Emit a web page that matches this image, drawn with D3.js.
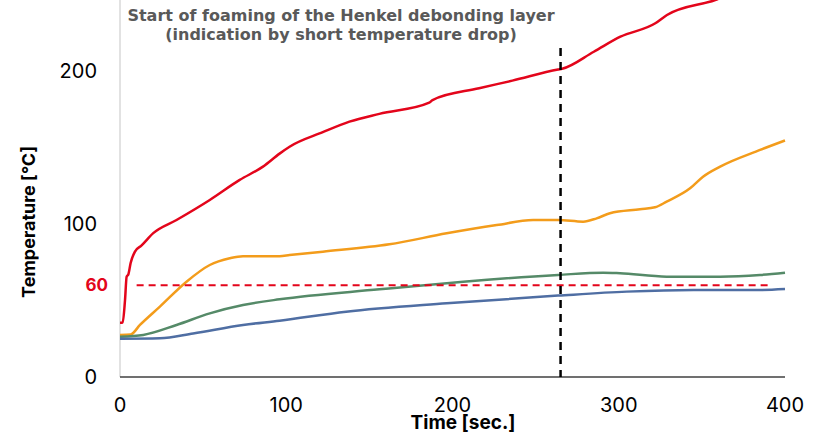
<!DOCTYPE html>
<html>
<head>
<meta charset="utf-8">
<script src="https://cdn.jsdelivr.net/npm/d3@7"></script>
<style>
  body { margin: 0; background: #fff; }
  svg { display: block; }
</style>
</head>
<body>
<svg id="chart"></svg>
<script>
const W = 817, H = 435;

// time values [sec.] and temperatures [°C]
const redTime = [0, 1.6, 3, 4, 5, 6.4, 9, 13, 20, 34, 54, 72, 86, 96, 102, 122, 138, 156, 186, 188, 216, 236, 263.5, 266, 285, 301, 322, 329, 358, 380, 400];
const redTemp = [35.4, 35.6, 50, 65.6, 67, 74.5, 82, 86, 94, 102.6, 115.7, 128.8, 137.5, 146, 150.5, 160, 166.9, 172, 179.3, 181, 188.7, 193.7, 201, 201.5, 212.6, 222.4, 231.2, 236.6, 246.4, 256, 263];

const orangeTime = [0, 6.4, 12, 24, 40, 54, 66, 74, 96, 102, 122, 162, 196.5, 226.6, 248.5, 263.5, 278.6, 286.7, 294.7, 312.8, 321.8, 328.8, 342.9, 350.7, 361, 385, 400];
const orangeTemp = [27.5, 27.8, 34, 46, 62.3, 73.2, 77.6, 79, 79, 79.7, 81.9, 86.7, 93.9, 99.3, 102.6, 102.6, 101.5, 103.7, 107, 109.6, 110.9, 114.6, 123.3, 130.9, 137.5, 148.4, 154.6];

const greenTime = [0, 14, 34, 54, 74, 96, 156, 206.5, 263.5, 290.7, 300.8, 328.8, 361, 385, 400];
const greenTemp = [26.3, 27.5, 34, 41.6, 47, 50.8, 57.3, 62.3, 66.7, 68.2, 67.8, 65.6, 65.6, 66.7, 68.2];

const blueTime = [0, 24, 44, 74, 96, 136, 196.5, 263.5, 304.8, 345, 385, 400];
const blueTemp = [25, 25.3, 28.5, 34, 36.8, 42.7, 48.2, 53.2, 55.8, 56.9, 56.9, 57.5];

const xTicks = [0, 100, 200, 300, 400];
const yTicks = [0, 100, 200];
const limitTemp = 60;
const limitSpan = [10, 392];
const foamTime = 265;
const titleLines = ["Start of foaming of the Henkel debonding layer", "(indication by short temperature drop)"];

const series = [
  { time: redTime, temp: redTemp, color: "#e3051b" },
  { time: orangeTime, temp: orangeTemp, color: "#f39c1b" },
  { time: greenTime, temp: greenTemp, color: "#558a68" },
  { time: blueTime, temp: blueTemp, color: "#4f6ea3" },
];

const svg = d3.select("#chart").attr("width", W).attr("height", H);

const x = d3.scaleLinear().domain([0, 400]).range([120, 785]);
const y = d3.scaleLinear().domain([0, 100]).range([377, 224]);

svg.append("defs").append("clipPath").attr("id", "plot-clip")
  .append("rect").attr("x", 118).attr("y", 0).attr("width", W).attr("height", 380);

// y axis line (light)
svg.append("line")
  .attr("x1", x(0)).attr("x2", x(0))
  .attr("y1", 0).attr("y2", y(0))
  .attr("stroke", "#d9d9d9").attr("stroke-width", 1.5);

// y tick labels
svg.append("g").selectAll("text").data(yTicks).join("text")
  .attr("x", 97).attr("y", (d) => y(d)).attr("dy", "0.36em")
  .attr("text-anchor", "end")
  .attr("font-family", "Inter, sans-serif")
  .attr("font-size", "20px").attr("fill", "#000")
  .text((d) => d);

// 60 marker
svg.append("text")
  .attr("x", 108).attr("y", y(limitTemp)).attr("dy", "0.36em")
  .attr("text-anchor", "end")
  .attr("font-family", "Inter, sans-serif")
  .attr("font-weight", "bold").attr("font-size", "17px").attr("fill", "#e3051b")
  .text(limitTemp);

// x tick labels
svg.append("g").selectAll("text").data(xTicks).join("text")
  .attr("x", (d) => x(d)).attr("y", 405).attr("dy", "0.36em")
  .attr("text-anchor", "middle")
  .attr("font-family", "Inter, sans-serif")
  .attr("font-size", "20px").attr("fill", "#000")
  .text((d) => d);

// curves
const plot = svg.append("g").attr("clip-path", "url(#plot-clip)");
series.forEach((s) => {
  const line = d3.line()
    .x((d, i) => x(s.time[i]))
    .y((d, i) => y(s.temp[i]))
    .curve(d3.curveMonotoneX);
  plot.append("path")
    .datum(s.temp)
    .attr("d", line)
    .attr("fill", "none")
    .attr("stroke", s.color)
    .attr("stroke-width", 2.5)
    .attr("stroke-linejoin", "round");
});

// 60 °C dashed line
svg.append("line")
  .attr("x1", x(limitSpan[0])).attr("x2", x(limitSpan[1]))
  .attr("y1", y(limitTemp)).attr("y2", y(limitTemp))
  .attr("stroke", "#e3051b").attr("stroke-width", 2)
  .attr("stroke-dasharray", "7,5");

// x axis line
svg.append("line")
  .attr("x1", x(0)).attr("x2", x(400))
  .attr("y1", y(0)).attr("y2", y(0))
  .attr("stroke", "#404040").attr("stroke-width", 1.5);

// foaming start marker
svg.append("line")
  .attr("x1", x(foamTime)).attr("x2", x(foamTime))
  .attr("y1", 48).attr("y2", y(0))
  .attr("stroke", "#000").attr("stroke-width", 2.5)
  .attr("stroke-dasharray", "8,6");

// annotation
svg.append("g").selectAll("text").data(titleLines).join("text")
  .attr("x", 341).attr("y", (d, i) => 21 + i * 19)
  .attr("text-anchor", "middle")
  .attr("font-family", "DejaVu Sans, sans-serif")
  .attr("font-weight", "bold").attr("font-size", "16px").attr("fill", "#595959")
  .text((d) => d);

// axis titles
svg.append("text")
  .attr("transform", `translate(35,${222}) rotate(-90)`)
  .attr("text-anchor", "middle")
  .attr("font-family", "Inter, sans-serif")
  .attr("font-weight", "bold").attr("font-size", "18px").attr("fill", "#000")
  .text("Temperature [°C]");

svg.append("text")
  .attr("x", 463).attr("y", 429)
  .attr("text-anchor", "middle")
  .attr("font-family", "Inter, sans-serif")
  .attr("font-weight", "bold").attr("font-size", "19px").attr("fill", "#000")
  .text("Time [sec.]");
</script>
</body>
</html>
